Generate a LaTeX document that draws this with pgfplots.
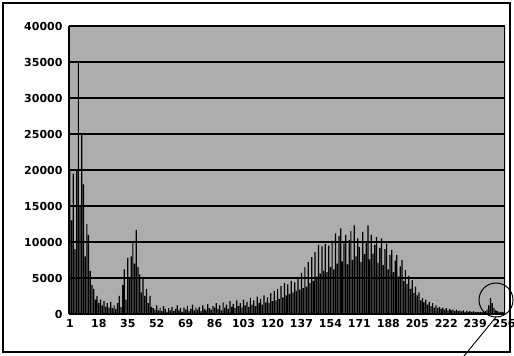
\documentclass[border=0pt]{standalone}
\usepackage{pgfplots}
\pgfplotsset{compat=1.18}
\usepackage{pgfplotstable}
\usepackage{fontspec}
\setmainfont{DejaVu Sans}
\definecolor{bg}{gray}{0.68}
\pgfplotstableread{
c v
1 20000
2 13000
3 19500
4 9000
5 20000
6 35000
7 15000
8 25000
9 18000
10 8000
11 12500
12 11000
13 6000
14 4000
15 3500
16 2000
17 2500
18 1500
19 2000
20 1200
21 1800
22 1000
23 1500
24 900
25 1700
26 800
27 1200
28 700
29 1500
30 2500
31 1000
32 4000
33 6200
34 2000
35 7800
36 5000
37 8000
38 10000
39 7000
40 11700
41 6500
42 5500
43 3000
44 5000
45 2500
46 3500
47 1500
48 2500
49 1000
50 800
51 600
52 1200
53 500
54 900
55 400
56 1100
57 700
58 300
59 800
60 500
61 1000
62 400
63 700
64 1200
65 500
66 800
67 300
68 900
69 600
70 1100
71 400
72 700
73 1300
74 500
75 900
76 600
77 1000
78 400
79 1200
80 700
81 500
82 1400
83 800
84 600
85 1100
86 900
87 1500
88 700
89 1200
90 500
91 1600
92 900
93 1300
94 700
95 1800
96 1000
97 1400
98 800
99 1900
100 1100
101 1500
102 900
103 2000
104 1200
105 1700
106 1000
107 2200
108 1300
109 1900
110 1100
111 2400
112 1500
113 2100
114 1300
115 2600
116 1600
117 2300
118 1500
119 2900
120 1800
121 3200
122 1900
123 3500
124 2100
125 3900
126 2300
127 4300
128 2600
129 4100
130 2800
131 4600
132 3000
133 4400
134 3200
135 5000
136 3400
137 5700
138 3600
139 6500
140 3800
141 7200
142 4300
143 7900
144 4600
145 8600
146 5200
147 9600
148 5600
149 9400
150 6000
151 9700
152 5800
153 9500
154 6500
155 10200
156 6200
157 11200
158 7000
159 10800
160 11900
161 7300
162 9800
163 11000
164 6900
165 10300
166 11500
167 7500
168 12300
169 8000
170 10500
171 9300
172 7200
173 11400
174 8300
175 10000
176 12300
177 7600
178 11000
179 8400
180 9600
181 10700
182 7100
183 9200
184 10500
185 6800
186 9000
187 9800
188 6200
189 8200
190 8900
191 5800
192 7400
193 8200
194 5200
195 6600
196 7500
197 4600
198 6100
199 4200
200 5300
201 3500
202 4700
203 2900
204 3800
205 2600
206 3000
207 1900
208 2200
209 1600
210 2000
211 1300
212 1700
213 1100
214 1500
215 900
216 1200
217 800
218 1000
219 700
220 900
221 600
222 800
223 500
224 700
225 500
226 600
227 400
228 600
229 400
230 500
231 350
232 500
233 300
234 450
235 300
236 400
237 300
238 350
239 250
240 300
241 250
242 300
243 250
244 300
245 400
246 600
247 1200
248 2200
249 1500
250 800
251 500
252 400
253 300
254 300
255 250
256 300
}\histdata
\begin{document}
\begin{tikzpicture}[x=1pt,y=1pt]
\useasboundingbox (0,0) rectangle (514,356);
\draw[line width=1.5pt] (3,4) rectangle (510,353);
\begin{axis}[
  at={(69pt,42pt)}, anchor=south west,
  scale only axis, width=436pt, height=288pt,
  xmin=0.5, xmax=256.5, ymin=0, ymax=40000,
  axis background/.style={fill=bg},
  axis x line*=bottom, axis y line*=left,
  axis line style={line width=1.2pt},
  x axis line style={line width=2pt},
  xtick={1,18,35,52,69,86,103,120,137,154,171,188,205,222,239,256},
  ytick={0,5000,...,40000},
  major tick length=0pt,
  scaled y ticks=false,
  ymajorgrids, grid style={black, line width=1.3pt},
  /pgf/number format/assume math mode=true,
  /pgf/number format/1000 sep={},
  tick label style={font=\fontsize{11}{13}\selectfont\bfseries},
  yticklabel style={xshift=-3pt},
  xticklabel style={yshift=-2pt},
  clip=true,
]
\addplot[ybar, bar width=0.72, fill=black, draw=none] table[x=c, y=v] {\histdata};
\draw[line width=1.2pt] (rel axis cs:1,0) -- (rel axis cs:1,1);
\end{axis}
\draw[line width=1pt] (496,56) circle (17);
\draw[line width=0.9pt] (496,39) -- (464,0);
\end{tikzpicture}
\end{document}
